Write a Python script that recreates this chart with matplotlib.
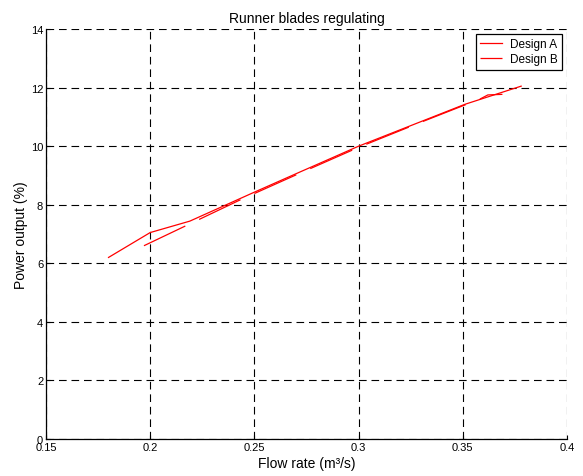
import matplotlib
matplotlib.use('Agg')
import matplotlib.pyplot as plt

# flow rate (m3/s) vs power output (%)
design_a_flow  = [0.180, 0.200, 0.219, 0.250, 0.270, 0.300, 0.351, 0.378]
design_a_power = [6.20, 7.05, 7.44, 8.43, 9.06, 10.00, 11.43, 12.05]

design_b_flow  = [0.197, 0.243, 0.270, 0.300, 0.330, 0.350, 0.358, 0.362, 0.369]
design_b_power = [6.60, 8.16, 9.02, 9.96, 10.82, 11.38, 11.60, 11.75, 11.77]

x_ticks = [0.15, 0.2, 0.25, 0.3, 0.35, 0.4]
y_ticks = [0, 2, 4, 6, 8, 10, 12, 14]

plt.rcParams['font.family'] = ['Liberation Sans', 'DejaVu Sans']
plt.rcParams['lines.scale_dashes'] = False

fig = plt.figure(figsize=(5.83, 4.77), dpi=100)
ax = fig.add_axes([0.0789, 0.0776, 0.8937, 0.8594])

ax.plot(design_a_flow, design_a_power, color='#ff0000', linewidth=0.9,
        linestyle='-', label='Design A')
ax.plot(design_b_flow, design_b_power, color='#ff0000', linewidth=0.9,
        linestyle=(0, (33, 11)), label='Design B')

ax.set_xlim(0.15, 0.4)
ax.set_ylim(0, 14)
ax.set_xticks(x_ticks)
ax.set_xticklabels(['0.15', '0.2', '0.25', '0.3', '0.35', '0.4'])
ax.set_yticks(y_ticks)

ax.grid(True, color='black', linestyle=(0, (5.5, 3.5)), linewidth=0.8)
ax.tick_params(direction='in', length=3, width=0.8, labelsize=8, pad=2)
for side in ['top', 'right']:
    ax.spines[side].set_visible(False)
for side in ['left', 'bottom']:
    ax.spines[side].set_linewidth(0.9)

ax.set_title('Runner blades regulating', fontsize=10, pad=5)
ax.set_xlabel('Flow rate (m³/s)', fontsize=10, labelpad=3)
ax.set_ylabel('Power output (%)', fontsize=10, labelpad=2)

leg = ax.legend(loc='upper right', fontsize=8.5, fancybox=False,
                framealpha=1, edgecolor='black', handlelength=1.8,
                borderaxespad=0.4, labelspacing=0.25, handletextpad=0.7)
leg.get_frame().set_linewidth(0.9)

fig.savefig('out.png', dpi=100)
